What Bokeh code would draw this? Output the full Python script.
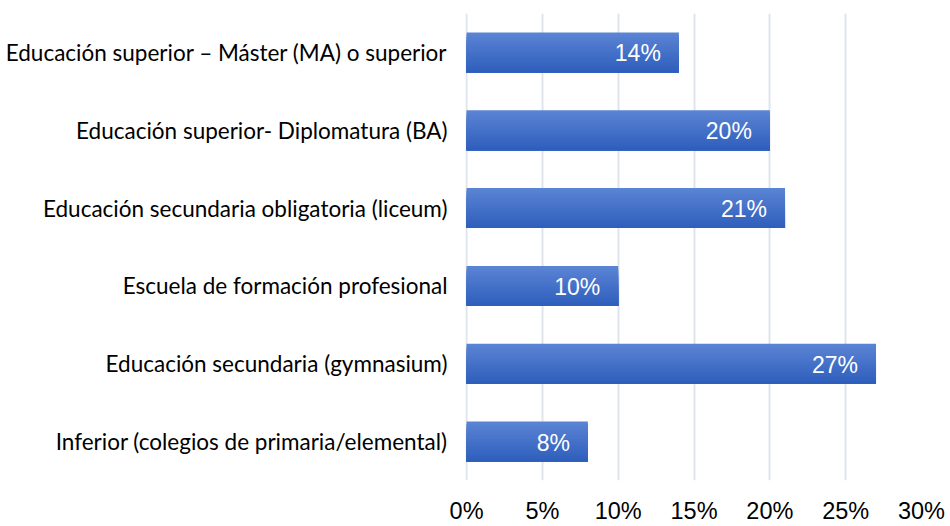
from bokeh.plotting import figure
from bokeh.models import Range1d, FixedTicker, ColumnDataSource
from bokeh.core.properties import value
from bokeh.embed import file_html
from bokeh.resources import INLINE

categories = [
    "Educación superior – Máster (MA) o superior",
    "Educación superior- Diplomatura (BA)",
    "Educación secundaria obligatoria (liceum)",
    "Escuela de formación profesional",
    "Educación secundaria (gymnasium)",
    "Inferior (colegios de primaria/elemental)",
]
values = [14, 20, 21, 10, 27, 8]
x_ticks = [0, 5, 10, 15, 20, 25, 30]

n = len(categories)
ypos = [n - 1 - i for i in range(n)]

p = figure(width=950, height=526, output_backend="svg", toolbar_location=None,
           x_range=Range1d(-0.07, 30), y_range=Range1d(-0.5, n - 0.5),
           min_border_left=465, min_border_right=29, min_border_top=13, min_border_bottom=45)
p.outline_line_color = None
p.background_fill_color = "white"
p.border_fill_color = "white"

p.xgrid.ticker = FixedTicker(ticks=x_ticks)
p.xgrid.grid_line_color = "#dfe4ec"
p.xgrid.grid_line_width = 2
p.ygrid.grid_line_color = None

# gradient bars: overlapping strips, each reaching down to the bar bottom
bar_h = 0.513
strips = 16
top = (0x5A, 0x83, 0xD3)
bot = (0x2F, 0x5F, 0xBD)
for k in range(strips):
    t = k / (strips - 1)
    col = "#%02x%02x%02x" % tuple(int(round(a + (b - a) * t)) for a, b in zip(top, bot))
    span = bar_h * (1 - k / strips)
    ys = [y - bar_h / 2 + span / 2 for y in ypos]
    src = ColumnDataSource(dict(y=ys, right=values))
    p.hbar(y="y", left=0, right="right", height=span, source=src,
           fill_color=col, line_color=None)

lab = ColumnDataSource(dict(y=ypos, x=values, t=[f"{v}%" for v in values]))
p.text(x="x", y="y", text="t", source=lab, text_align="right", text_baseline="middle",
       x_offset=-18, y_offset=1, text_color="white", text_font=value("Liberation Sans"),
       text_font_size="23px")

p.xaxis.ticker = FixedTicker(ticks=x_ticks)
p.xaxis.major_label_overrides = {t: f"{t}%" for t in x_ticks}
p.xaxis.axis_line_color = None
p.xaxis.major_tick_line_color = None
p.xaxis.minor_tick_line_color = None
p.xaxis.major_label_standoff = 11
p.xaxis.major_label_text_font = "Liberation Sans"
p.xaxis.major_label_text_font_size = "23.5px"
p.xaxis.major_label_text_color = "black"

p.yaxis.ticker = FixedTicker(ticks=ypos)
p.yaxis.major_label_overrides = {y: c for y, c in zip(ypos, categories)}
p.yaxis.axis_line_color = None
p.yaxis.major_tick_line_color = None
p.yaxis.minor_tick_line_color = None
p.yaxis.major_label_standoff = 12
p.yaxis.major_label_text_font = "Lato"
p.yaxis.major_label_text_font_size = "22.5px"
p.yaxis.major_label_text_color = "black"

open("out.html", "w").write(file_html(p, INLINE))
